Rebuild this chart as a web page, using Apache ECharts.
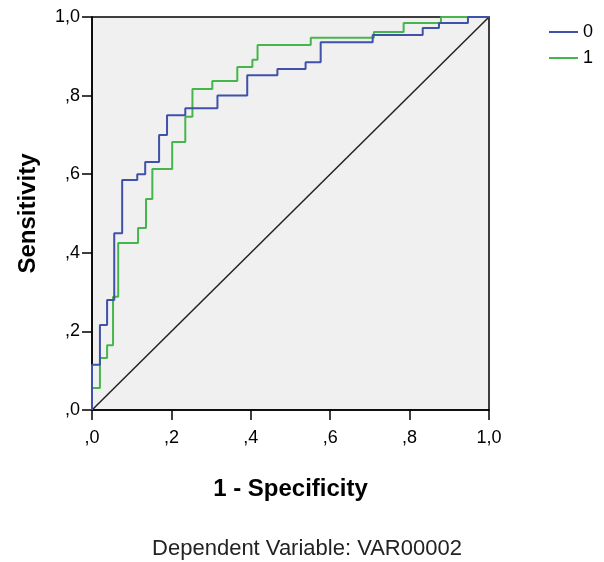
<!DOCTYPE html>
<html>
<head>
<meta charset="utf-8">
<script src="https://cdn.jsdelivr.net/npm/echarts@6/dist/echarts.min.js"></script>
<style>
  html, body { margin: 0; padding: 0; background: #fff; }
  #chart { width: 604px; height: 562px; }
</style>
</head>
<body>
<div id="chart"></div>
<script>
// ROC curves: x of each vertical jump and the sensitivity reached there
const groups = ['0', '1']
const fpr0 = [0, 0.02, 0.038, 0.056, 0.076, 0.114, 0.134, 0.169, 0.189, 0.235, 0.316, 0.391, 0.467, 0.538, 0.576, 0.707, 0.833, 0.874, 0.947]
const tpr0 = [0.115, 0.216, 0.28, 0.45, 0.585, 0.60, 0.631, 0.70, 0.75, 0.768, 0.80, 0.852, 0.868, 0.885, 0.936, 0.954, 0.972, 0.985, 1.0]
const fpr1 = [0, 0.02, 0.038, 0.053, 0.066, 0.116, 0.136, 0.152, 0.202, 0.235, 0.253, 0.303, 0.366, 0.404, 0.417, 0.551, 0.71, 0.785, 0.879]
const tpr1 = [0.056, 0.132, 0.165, 0.288, 0.425, 0.463, 0.537, 0.613, 0.682, 0.746, 0.817, 0.837, 0.873, 0.891, 0.929, 0.947, 0.962, 0.985, 1.0]
const refLine = [[0, 0], [1, 1]]

// turn the jump lists into a stepped path
const stepPath = (fpr, tpr) => {
  let pts = [[0, 0]]
  for (let i = 0; i < fpr.length; i++) {
    pts.push([fpr[i], i === 0 ? 0 : tpr[i - 1]])
    pts.push([fpr[i], tpr[i]])
  }
  pts.push([1, tpr[tpr.length - 1]])
  return pts
}

const fmt = v => v === 1 ? '1,0' : ',' + Math.round(v * 10)
const font = 'Liberation Sans, Arial'

let myChart = echarts.init(document.getElementById('chart'))
let axisCommon = {
  type: 'value',
  min: 0,
  max: 1,
  interval: 0.2,
  axisLine: { show: true, lineStyle: { color: '#000', width: 1.5 } },
  axisTick: { show: true, length: 10, lineStyle: { color: '#000', width: 1.5 } },
  splitLine: { show: false },
  axisLabel: {
    formatter: fmt,
    color: '#000',
    fontSize: 18,
    fontFamily: font
  },
  nameLocation: 'middle',
  nameTextStyle: {
    color: '#000',
    fontSize: 24,
    fontWeight: 'bold',
    fontFamily: font
  }
}
let option = {
  animation: false,
  backgroundColor: '#fff',
  title: {
    text: 'Dependent Variable: VAR00002',
    left: 302,
    textAlign: 'center',
    top: 533,
    textStyle: {
      color: '#222',
      fontSize: 22,
      fontWeight: 'normal',
      fontFamily: font
    }
  },
  grid: {
    left: 92,
    right: 115,
    top: 17,
    bottom: 152,
    show: true,
    backgroundColor: '#f0f0f0',
    borderColor: '#000',
    borderWidth: 1.5
  },
  legend: {
    orient: 'vertical',
    right: 6,
    top: 18,
    icon: 'rect',
    itemWidth: 29,
    itemHeight: 2,
    itemGap: 8,
    textStyle: { color: '#000', fontSize: 18, fontFamily: font },
    data: groups
  },
  xAxis: Object.assign({}, axisCommon, {
    name: '1 - Specificity',
    nameGap: 67,
    axisLabel: Object.assign({}, axisCommon.axisLabel, { margin: 19 })
  }),
  yAxis: Object.assign({}, axisCommon, {
    name: 'Sensitivity',
    nameGap: 52,
    axisLabel: Object.assign({}, axisCommon.axisLabel, { margin: 12 })
  }),
  series: [
    {
      name: 'ref',
      type: 'line',
      data: refLine,
      symbol: 'none',
      lineStyle: { color: '#222', width: 1.5 },
      silent: true,
      z: 1
    },
    {
      name: groups[0],
      type: 'line',
      data: stepPath(fpr0, tpr0),
      symbol: 'none',
      color: '#3f51a8',
      lineStyle: { color: '#3f51a8', width: 2 },
      z: 3
    },
    {
      name: groups[1],
      type: 'line',
      data: stepPath(fpr1, tpr1),
      symbol: 'none',
      color: '#45b64b',
      lineStyle: { color: '#45b64b', width: 2 },
      z: 2
    }
  ]
}
myChart.setOption(option)
</script>
</body>
</html>
